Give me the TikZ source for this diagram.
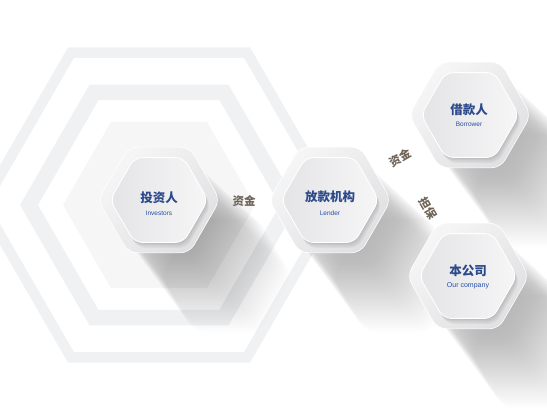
\documentclass[tikz,border=0pt]{standalone}
\usepackage{fontspec}
\setsansfont{Liberation Sans}
\newfontfamily\cjk{Noto Sans CJK SC}
\usetikzlibrary{shapes.geometric}

\definecolor{ringgray}{RGB}{240,241,243}
\definecolor{coregray}{RGB}{246,246,247}
\definecolor{framelight}{RGB}{246,246,247}
\definecolor{framedark}{RGB}{224,224,226}
\definecolor{facelight}{RGB}{246,246,247}
\definecolor{facedark}{RGB}{228,228,230}
\definecolor{titleblue}{RGB}{44,74,138}
\definecolor{subblue}{RGB}{38,78,168}
\definecolor{flowbrown}{RGB}{112,100,88}

% flat-top hexagon path: centre x, centre y, radius
\newcommand\hexpath[3]{([shift={(#1,#2)}]0:#3) -- ++(120:#3) -- ++(180:#3) -- ++(240:#3) -- ++(300:#3) -- ++(0:#3) -- cycle}

\tikzset{
  hexframe/.style={regular polygon, regular polygon sides=6, minimum size=122pt, inner sep=0pt,
    rounded corners=9pt, draw=white, line width=0.6pt,
    top color=framelight, bottom color=framedark, shading angle=45},
  hexface/.style={regular polygon, regular polygon sides=6, minimum size=98pt, inner sep=0pt,
    rounded corners=8pt, draw=white, line width=0.9pt,
    left color=facedark, right color=facelight},
  titletext/.style={font=\cjk\bfseries\fontsize{12.5}{14}\selectfont, text=titleblue, inner sep=0pt},
  subtext/.style={font=\sffamily\fontsize{6.5}{7}\selectfont, text=subblue, inner sep=0pt},
  flowtext/.style={font=\cjk\bfseries\fontsize{11.5}{13}\selectfont, text=flowbrown, inner sep=0pt},
}

\begin{document}
\begin{tikzpicture}[x=1pt,y=1pt,yscale=-1]
\useasboundingbox (0,0) rectangle (547,418);

%Shape: Background rings
\fill[ringgray, even odd rule] \hexpath{159}{205}{182} \hexpath{159}{205}{170};
\fill[ringgray, even odd rule] \hexpath{159}{205}{139} \hexpath{159}{205}{121};
\fill[coregray] \hexpath{159}{205}{96};

%Shape: Long shadows
\foreach \cx/\cy in {159/200,330/200,470/115,468/276}{
  \foreach \k in {1,...,40}{
    \fill[black, opacity=0.0085, rounded corners=10pt] \hexpath{\cx+1.7*\k}{\cy+1.9*\k}{55+0.25*\k};
  }
}

%Shape: Hexagon cards
\foreach \nm/\cx/\cy in {investor/159/200,lender/330/200,borrower/470/115,company/468/276}{
  \node[hexframe] (\nm frame) at (\cx,\cy) {};
  \foreach \k in {1,...,4}{
    \fill[black, opacity=0.045, rounded corners=8pt] \hexpath{\cx+0.8*\k}{\cy+1.4*\k}{49};
  }
  \node[hexface] (\nm face) at (\cx,\cy) {};
}

% Text Node
\node[titletext] (investorcn) at (159,198) {投资人};
\node[subtext] (investoren) at (159,213) {Investors};
% Text Node
\node[titletext] (lendercn) at (330,197) {放款机构};
\node[subtext] (lenderen) at (330,213) {Lender};
% Text Node
\node[titletext] (borrowercn) at (469,110) {借款人};
\node[subtext] (borroweren) at (469,124) {Borrower};
% Text Node
\node[titletext] (companycn) at (468,271) {本公司};
\node[subtext, font=\sffamily\fontsize{7}{8}\selectfont] (companyen) at (468,286) {Our company};

% Text Node
\node[flowtext] (fundsa) at (244,201) {资金};
\node[flowtext, rotate=30] (fundsb) at (400,158) {资金};
\node[flowtext, rotate=-60] (guarantee) at (428,208) {担保};

\end{tikzpicture}
\end{document}
